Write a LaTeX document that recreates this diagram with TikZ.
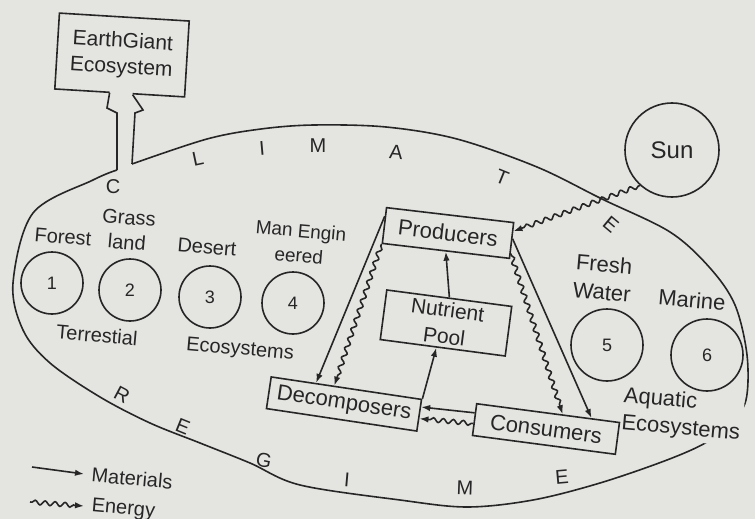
\documentclass[tikz,border=0pt]{standalone}
\usepackage{fontspec}
\setmainfont{Liberation Sans}
\usetikzlibrary{arrows.meta,calc,decorations.pathmorphing}
\definecolor{paper}{RGB}{228,229,225}
\definecolor{ink}{RGB}{38,38,38}
\tikzset{
  box/.style={draw,font=\fontsize{11}{12}\selectfont,align=center,inner sep=0pt},
  eco/.style={circle,draw,minimum size=31pt,inner sep=0pt,font=\fontsize{9}{10}\selectfont},
  lbl/.style={font=\fontsize{10}{12.5}\selectfont,align=center,inner sep=1pt,rotate=-5},
  rim/.style={font=\fontsize{10}{11}\selectfont,inner sep=0pt},
  mat/.style={-{Latex[length=4.5pt,width=3.2pt]}},
  nrg/.style={-{Latex[length=4.5pt,width=3.2pt]},decorate,
    decoration={snake,amplitude=1.1pt,segment length=5pt,pre length=1pt,post length=5pt}},
}

\begin{document}
\begin{tikzpicture}[x=0.5pt,y=-0.5pt,ink,line width=0.8pt]
  \fill[paper] (0,0) rectangle (755,519);
  \useasboundingbox (0,0) rectangle (755,519);

  % climate / regime boundary
  \coordinate (gapL) at (117,170);
  \coordinate (gapR) at (132,164);
  \draw plot[smooth,tension=0.55] coordinates {(132,164) (207,139) (261,129) (314,125) (386,127)
    (457,139) (537,167) (602,199) (670,232) (710,268) (735,305) (747,355) (746,400) (731,422)
    (707,442) (667,460) (600,483) (533,500) (467,507) (400,500) (300,485) (250,463) (200,443)
    (150,423) (100,397) (50,363) (23,330) (13,283) (33,213) (93,180) (117,170)};

  \node[box,minimum width=65pt,minimum height=38pt,rotate=-3.5,
    font=\fontsize{10.5}{13}\selectfont] (eg) at (122,55) {EarthGiant\\Ecosystem};
  \coordinate (stemTL) at ($(eg.south)+(-10,-1)$);
  \coordinate (stemTR) at ($(eg.south)+(13,1)$);
  \fill[paper] ($(stemTL)+(0,-4)$) -- (stemTL) -- (107,108) -- (117,113) -- (gapL) -- (gapR)
    -- (135,113) -- (143,110) -- (stemTR) -- ($(stemTR)+(0,-4)$) -- cycle;
  \draw (stemTL) -- (107,108) -- (117,113) -- (gapL);
  \draw (stemTR) -- (143,110) -- (135,113) -- (gapR);

  % letters along the boundary
  \node[rim] (rC) at (113,187) {C};
  \node[rim,rotate=12] (rL) at (198,159) {L};
  \node[rim,rotate=5] (rI) at (262,148) {I};
  \node[rim] (rM) at (318,146) {M};
  \node[rim,rotate=-5] (rA) at (396,152) {A};
  \node[rim,rotate=-22] (rT) at (502,177) {T};
  \node[rim,rotate=-40] (rE) at (611,225) {E};
  \node[rim,rotate=-28] (gR) at (122,395) {R};
  \node[rim,rotate=-22] (gE) at (183,427) {E};
  \node[rim,rotate=-12] (gG) at (264,460) {G};
  \node[rim,rotate=-5] (gI) at (347,480) {I};
  \node[rim,rotate=-2] (gM) at (465,488) {M};
  \node[rim,rotate=5] (gE2) at (562,477) {E};

  % ecosystems
  \node[lbl,align=left,anchor=west,fill=paper,font=\fontsize{11}{13.5}\selectfont] (aqua) at (620,410) {Aquatic\\Ecosystems};
  \node[eco] (t1) at (52,283) {1};
  \node[eco] (t2) at (130,290) {2};
  \node[eco] (t3) at (210,297) {3};
  \node[eco] (t4) at (293,303) {4};
  \node[eco,minimum size=36pt] (a5) at (607,345) {5};
  \node[eco,minimum size=36pt] (a6) at (707,355) {6};
  \node[lbl] (forest) at (63,237) {Forest};
  \node[lbl] (grass) at (128,230) {Grass\\land};
  \node[lbl] (desert) at (207,247) {Desert};
  \node[lbl,font=\fontsize{9.5}{12.5}\selectfont] (maneng) at (300,243) {Man Engin\\eered};
  \node[lbl] (terr) at (97,335) {Terrestial};
  \node[lbl] (tereco) at (240,350) {Ecosystems};
  \node[lbl,font=\fontsize{11}{14}\selectfont] (fresh) at (603,278) {Fresh\\Water};
  \node[lbl,font=\fontsize{11}{12}\selectfont] (marine) at (692,300) {Marine};

  \node[circle,draw,minimum size=47pt,inner sep=0pt,font=\fontsize{12}{12}\selectfont] (sun) at (672,150) {Sun};

  % food web
  \node[box,minimum width=64pt,minimum height=18pt,rotate=-6.7] (prod) at (448,233) {Producers};
  \node[box,minimum width=63pt,minimum height=25pt,rotate=-7.5,
    font=\fontsize{10.5}{13.5}\selectfont] (pool) at (446,323) {Nutrient\\Pool};
  \node[box,minimum width=76pt,minimum height=16pt,rotate=-8.5] (dec) at (344,404) {Decomposers};
  \node[box,minimum width=72pt,minimum height=16pt,rotate=-7.5] (cons) at (546,429) {Consumers};

  \draw[nrg] (sun.228) -- ($(prod.north east)!0.25!(prod.south east)$);
  \draw[mat] ($(prod.north west)!0.25!(prod.south west)$) -- ($(dec.north west)!0.3!(dec.north east)$);
  \draw[nrg] (prod.south west) -- ($(dec.north west)!0.42!(dec.north east)$);
  \draw[mat] (pool.north) -- (prod.south);
  \draw[mat] (dec.north east) -- ($(pool.south west)!0.45!(pool.south east)$);
  \draw[mat] ($(cons.north west)!0.3!(cons.south west)$) -- ($(dec.north east)!0.25!(dec.south east)$);
  \draw[nrg] ($(cons.north west)!0.62!(cons.south west)$) -- ($(dec.north east)!0.6!(dec.south east)$);
  \draw[nrg] ($(prod.north east)!0.85!(prod.south east)$) -- ($(cons.north west)!0.6!(cons.north east)$);
  \draw[mat] ($(prod.north east)!0.45!(prod.south east)$) -- ($(cons.north west)!0.8!(cons.north east)$);

  % legend
  \coordinate (matS) at (32,467);
  \coordinate (nrgS) at (30,502);
  \node[lbl,anchor=west,inner xsep=3.5pt] (matL) at (84,474) {Materials};
  \node[lbl,anchor=west,inner xsep=3.5pt] (nrgL) at (84,506) {Energy};
  \draw[mat] (matS) -- (matL.west);
  \draw[nrg] (nrgS) -- (nrgL.west);
\end{tikzpicture}
\end{document}
